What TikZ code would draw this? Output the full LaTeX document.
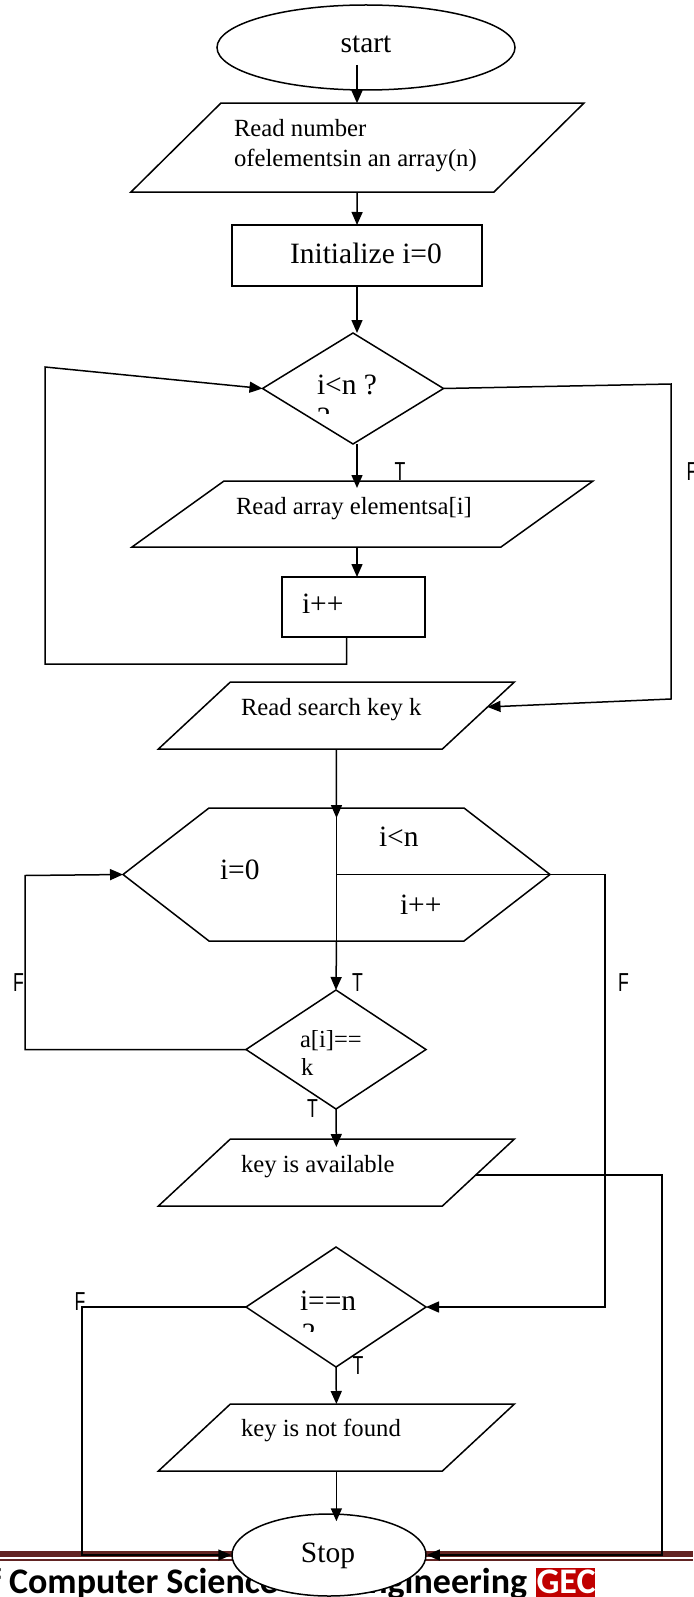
\documentclass[tikz,border=0pt]{standalone}
\usepackage{fontspec}
\setmainfont{Liberation Serif}
\newfontfamily\footfont{Carlito}
\newfontfamily\flagfont{Liberation Sans}
\usetikzlibrary{arrows.meta,calc,shapes.geometric}
\definecolor{footred}{HTML}{622423}
\definecolor{gecred}{HTML}{C00000}

% font sizes (1pt = 1 pixel of the page)
\newcommand\fsA{\fontsize{24.7pt}{30pt}\selectfont}
\newcommand\fsB{\fontsize{29.5pt}{34pt}\selectfont}
\newcommand\fsC{\fontsize{24.5pt}{28pt}\selectfont}
\newcommand\flaglbl[1]{\scalebox{0.68}[1]{\flagfont\fontsize{26pt}{26pt}\selectfont #1}}

% outline of an input/output parallelogram around a frame node
\newcommand\ioshape[2]{\draw[line] ([xshift=#2pt]#1.north west) -- ([xshift=#2pt]#1.north east)
  -- ([xshift=-#2pt]#1.south east) -- ([xshift=-#2pt]#1.south west) -- cycle;}
% outline of a decision diamond around a frame node
\newcommand\diashape[1]{\draw[line] (#1.north) -- (#1.east) -- (#1.south) -- (#1.west) -- cycle;}

\tikzset{
  line/.style={line width=1.5pt, line join=miter},
  arr/.style={line, -{Triangle[length=13pt,width=11pt]}},
  frame/.style={inner sep=0pt, outer sep=0pt, rectangle},
  lbl/.style={inner sep=0pt, outer sep=0pt, anchor=base west},
  flag/.style={inner sep=0pt, outer sep=0pt}
}

\begin{document}
\begin{tikzpicture}[x=1pt,y=-1pt]
\useasboundingbox (0,0) rectangle (693,1597);

% ---------- page footer ----------
\fill[footred] (0,1550.5) rectangle (693,1556.5);
\fill[footred] (0,1559.3) rectangle (693,1561.3);
\node[lbl, font=\footfont\bfseries\fontsize{36pt}{40pt}\selectfont] (foottext) at (-29.8,1593) {of Computer Science and Engineering};
\fill[gecred] (536,1568) rectangle (595,1600);
\node[lbl, text=white, font=\footfont\bfseries\fontsize{36pt}{40pt}\selectfont] (gec) at (536.5,1593) {GEC};

% ---------- shapes ----------
\node[ellipse, draw, line, fill=white, inner sep=0pt, minimum width=298pt, minimum height=85pt] (start) at (366,47.5) {};
\node[lbl, anchor=base, font=\fsB] (starttxt) at (366,53) {start};

\node[frame, minimum width=363pt, minimum height=89pt] (p1) at (357.25,147.75) {};
\ioshape{p1}{45}
\node[lbl, font=\fsA] (p1a) at (234,137) {Read number};
\node[lbl, font=\fsA] (p1b) at (234,167) {ofelementsin an array(n)};

\node[frame, draw, line, minimum width=250pt, minimum height=61pt] (init) at (357,255.5) {};
\node[lbl, font=\fsB] (inittxt) at (290,264) {Initialize i=0};

\node[frame, minimum width=181pt, minimum height=111pt] (d1) at (353,388.5) {};
\diashape{d1}
\node[lbl, font=\fsB] (d1txt) at (317,394) {i<n ?};
\begin{scope}
  \clip (300,400) rectangle (345,413);
  \node[lbl, font=\fsB] (d1q) at (317,427) {?};
\end{scope}

\node[frame, minimum width=369pt, minimum height=66pt] (p2) at (362.5,514) {};
\ioshape{p2}{46}
\node[lbl, font=\fsA] (p2txt) at (236,514) {Read array elementsa[i]};

\node[frame, draw, line, minimum width=143pt, minimum height=60pt] (inc) at (353.5,607) {};
\node[lbl, font=\fsB] (inctxt) at (302,613) {i++};

\node[frame, minimum width=284pt, minimum height=67pt] (p3) at (336.4,715.5) {};
\ioshape{p3}{36}
\node[lbl, font=\fsA] (p3txt) at (241,715) {Read search key k};

% loop hexagon: i=0 / i<n / i++
\node[frame, minimum width=255pt, minimum height=133pt] (hex) at (336.5,874.5) {};
\draw[line] (hex.north west) -- (hex.north east) -- ([xshift=86pt]hex.east) -- (hex.south east)
  -- (hex.south west) -- ([xshift=-86pt]hex.west) -- cycle;
\node[lbl, font=\fsB] (hexa) at (220,879) {i=0};
\node[lbl, font=\fsB] (hexb) at (379,846) {i<n};
\node[lbl, font=\fsB] (hexc) at (400,914) {i++};

\node[frame, minimum width=180pt, minimum height=119pt] (d2) at (336,1049.5) {};
\diashape{d2}
\node[lbl, font=\fsC] (d2a) at (300,1047) {a[i]==};
\node[lbl, font=\fsC] (d2b) at (301,1075) {k};

\node[frame, minimum width=284pt, minimum height=67pt] (p4) at (336.4,1172.5) {};
\ioshape{p4}{36}
\node[lbl, font=\fsA] (p4txt) at (241,1172) {key is available};

\node[frame, minimum width=180pt, minimum height=120pt] (d3) at (336,1307) {};
\diashape{d3}
\node[lbl, font=\fsB] (d3txt) at (300,1310) {i==n};
\begin{scope}
  \clip (290,1318) rectangle (345,1331);
  \node[lbl, font=\fsB] (d3q) at (302,1343) {?};
\end{scope}

\node[frame, minimum width=284pt, minimum height=67pt] (p5) at (336.4,1437.5) {};
\ioshape{p5}{36}
\node[lbl, font=\fsA] (p5txt) at (241,1436) {key is not found};

\node[ellipse, draw, line, fill=white, inner sep=0pt, minimum width=194pt, minimum height=82pt] (stop) at (329,1555) {};
\node[lbl, anchor=base, font=\fsB] (stoptxt) at (328,1562) {Stop};

% ---------- connectors ----------
\coordinate (startout) at (357,65);
\draw[arr] (startout) -- (startout |- p1.north);
\draw[arr] (p1.south) -- (init.north);
\draw[arr] (init.south) -- (init.south |- d1.north);
\coordinate (p2top) at (init.south |- p2.north);
\draw[arr] (init.south |- d1.south) -- ([yshift=-7pt]p2top);
\draw[arr] (init.south |- p2.south) -- (init.south |- inc.north);
% back to the test
\draw[arr] ([xshift=-7pt]inc.south) -- ++(0,27) -| (45,367) -- (d1.west);
% false branch of the first test
\coordinate (p3in) at ($([xshift=36pt]p3.north east)!0.373!([xshift=-36pt]p3.south east)$);
\draw[arr] (d1.east) -- (671,384) -- (671,699) -- (p3in);

\draw[arr] (p3.south) -- ([yshift=-10pt]hex.north);
\draw[line] (hex.north) -- (hex.south);
\draw[arr] (hex.south) -- (d2.north);
\coordinate (hexE) at ([xshift=86pt]hex.east);
\coordinate (hexW) at ([xshift=-86pt]hex.west);
\draw[arr] (hex.center) -- (hexE) -- ++(55,0) |- (d3.east);
\draw[arr] (d2.west) -| (25,875.5) -- (hexW);

\draw[arr] (d2.south) -- ([yshift=-8pt]p4.north);
\coordinate (p4out) at ($([xshift=36pt]p4.north east)!0.537!([xshift=-36pt]p4.south east)$);
\draw[arr] (p4out) -| (662,1555) -- (stop.east);

\draw[arr] (d3.west) -| (82,1555) -- (stop.west);
\draw[arr] (d3.south) -- (p5.north);
\coordinate (stoptop) at (p5.south |- stop.north);
\draw[arr] (p5.south) -- ([yshift=-8pt]stoptop);

% ---------- branch labels ----------
\node[flag] (t1) at (400,472) {\flaglbl{T}};
\node[flag] (f1) at (692,472) {\flaglbl{F}};
\node[flag] (f2) at (18.5,982.5) {\flaglbl{F}};
\node[flag] (t2) at (357.5,982.5) {\flaglbl{T}};
\node[flag] (f3) at (623.5,982.5) {\flaglbl{F}};
\node[flag] (t3) at (312.5,1108.5) {\flaglbl{T}};
\node[flag] (f4) at (80,1301.5) {\flaglbl{F}};
\node[flag] (t4) at (358,1365.5) {\flaglbl{T}};
\end{tikzpicture}
\end{document}
